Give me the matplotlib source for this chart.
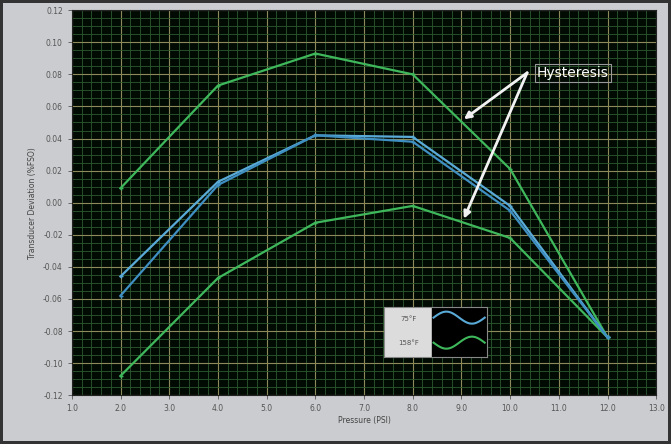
import matplotlib.pyplot as plt
import numpy as np
from matplotlib.ticker import MultipleLocator

# pressure points (PSI)
pressure = [2.0, 4.0, 6.0, 8.0, 10.0, 12.0]

# 158F runs (outer green curves, hysteresis)
hot_up = [0.009, 0.073, 0.093, 0.080, 0.021, -0.084]
hot_down = [-0.108, -0.047, -0.0125, -0.002, -0.022, -0.084]

# 75F runs (blue)
cold_up = [-0.046, 0.013, 0.042, 0.041, -0.002, -0.084]
cold_down = [-0.058, 0.011, 0.042, 0.038, -0.005, -0.084]

legend_labels = ["75°F", "158°F"]

fig = plt.figure(figsize=(6.71, 4.44), dpi=100)
fig.patch.set_facecolor("#cbcccf")
fig.patch.set_edgecolor("#333333")
fig.patch.set_linewidth(3)

ax = fig.add_axes([0.107, 0.110, 0.871, 0.867])
ax.set_facecolor("#020a04")

ax.set_xlim(1.0, 13.0)
ax.set_ylim(-0.12, 0.12)
ax.xaxis.set_major_locator(MultipleLocator(1.0))
ax.xaxis.set_minor_locator(MultipleLocator(0.2))
ax.yaxis.set_major_locator(MultipleLocator(0.02))
ax.yaxis.set_minor_locator(MultipleLocator(0.005))
ax.grid(which="minor", color="#2c5a30", linewidth=0.6)
ax.grid(which="major", color="#8c8a5a", linewidth=0.8)
ax.set_axisbelow(True)

ax.set_xticks(np.arange(1.0, 13.5, 1.0))
ax.set_xticklabels(["%.1f" % v for v in np.arange(1.0, 13.5, 1.0)])
ax.set_yticks(np.arange(-0.12, 0.125, 0.02))
ax.set_yticklabels(["%.2f" % (0 if abs(v) < 1e-9 else v) for v in np.arange(-0.12, 0.125, 0.02)])
ax.tick_params(which="major", labelsize=5.5, colors="#555555", length=3, width=0.6)
ax.tick_params(which="minor", length=0)
for s in ax.spines.values():
    s.set_color("#222222")

ax.set_xlabel("Pressure (PSI)", fontsize=5.5, color="#444444", labelpad=2)
ax.set_ylabel("Transducer Deviation (%FSO)", fontsize=5.5, color="#444444", labelpad=4)

green = "#3fb85c"
ax.plot(pressure, hot_up, color=green, lw=1.6, marker="+", ms=3)
ax.plot(pressure, hot_down, color=green, lw=1.6, marker="+", ms=3)
ax.plot(pressure, cold_up, color="#5aaad8", lw=1.6, marker="+", ms=3)
ax.plot(pressure, cold_down, color="#3f8fc2", lw=1.6, marker="+", ms=3)

# hysteresis callout
ax.text(10.55, 0.081, "Hysteresis", color="white", fontsize=10, va="center", ha="left",
        bbox=dict(boxstyle="square,pad=0.15", fc="none", ec="#999999", lw=0.8))
arrow = dict(arrowstyle="-|>", color="#f2f2f2", lw=2, mutation_scale=10, shrinkA=0, shrinkB=0)
ax.annotate("", xy=(9.05, 0.052), xytext=(10.35, 0.081), arrowprops=arrow)
ax.annotate("", xy=(9.05, -0.010), xytext=(10.35, 0.081), arrowprops=arrow)

# legend box drawn like the instrument panel
leg = ax.inset_axes([0.535, 0.10, 0.175, 0.13])
leg.set_xlim(0, 1)
leg.set_ylim(0, 1)
leg.set_xticks([])
leg.set_yticks([])
leg.set_facecolor("#dcdcdc")
for s in leg.spines.values():
    s.set_color("#888888")
leg.axvspan(0.46, 1.0, color="black")
t = np.linspace(0.48, 0.98, 60)
leg.plot(t, 0.78 + 0.12 * np.sin((t - 0.48) * 4 * np.pi), color="#5aaad8", lw=1.5)
leg.plot(t, 0.28 + 0.12 * np.sin((t - 0.48) * 4 * np.pi + np.pi), color=green, lw=1.5)
leg.text(0.24, 0.75, legend_labels[0], fontsize=5, color="#555555", ha="center", va="center")
leg.text(0.24, 0.28, legend_labels[1], fontsize=5, color="#555555", ha="center", va="center")

fig.savefig("out.png", dpi=100, facecolor=fig.get_facecolor(), edgecolor=fig.get_edgecolor())
